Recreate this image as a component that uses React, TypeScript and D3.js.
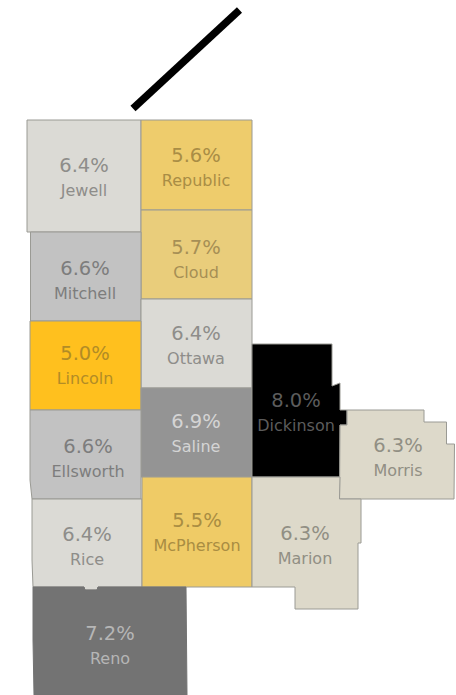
import React from 'react';
import * as d3 from 'd3';

const counties = ['Jewell', 'Republic', 'Cloud', 'Mitchell', 'Ottawa', 'Lincoln', 'Saline', 'Ellsworth', 'Dickinson', 'Morris', 'Rice', 'McPherson', 'Marion', 'Reno'];
const rates = [6.4, 5.6, 5.7, 6.6, 6.4, 5.0, 6.9, 6.6, 8.0, 6.3, 6.4, 5.5, 6.3, 7.2];

// colour ramp, keyed by rate
const rampStops = [5.0, 5.5, 5.6, 5.7, 6.3, 6.4, 6.6, 6.9, 7.2, 8.0];
const rampFill = ['#ffc01e', '#efcb66', '#eecc6c', '#e9cd7b', '#ddd9ca', '#dbdad5', '#c2c2c2', '#949494', '#737373', '#000000'];
const rampText = ['#b28c26', '#a98d42', '#a98d45', '#a68f55', '#918f84', '#8e8d8a', '#7d7d7d', '#d4d4d4', '#b6b6b6', '#5c5c5c'];

// county outlines in map units
const outlines: Record<string, [number, number][]> = {
  Jewell: [[27, 120], [141, 120], [141, 232], [27, 232]],
  Republic: [[141, 120], [252, 120], [252, 210], [141, 210]],
  Cloud: [[141, 210], [252, 210], [252, 299], [141, 299]],
  Mitchell: [[30.5, 232], [141, 232], [141, 321], [30.5, 321]],
  Ottawa: [[141, 299], [252, 299], [252, 388], [141, 388]],
  Lincoln: [[30, 321], [141, 321], [141, 410], [30, 410]],
  Saline: [[141, 388], [252, 388], [252, 477], [141, 477]],
  Ellsworth: [[30, 410], [141, 410], [141, 499], [32, 499], [30, 480]],
  Dickinson: [[252, 344], [332, 344], [332, 386], [340, 383], [340, 410], [347, 410], [347, 425], [340, 425], [340, 477], [252, 477]],
  Morris: [[340, 425], [347, 425], [347, 410], [424, 410], [424, 422], [446.5, 422], [446.5, 444], [454.5, 444], [454, 499], [339.5, 499]],
  Rice: [[32, 499], [142, 499], [142, 587], [98, 587], [97, 590], [85, 590], [84, 587], [33, 587], [32, 560]],
  McPherson: [[142, 477], [252, 477], [252, 587], [142, 587]],
  Marion: [[252, 477], [340, 477], [339.5, 499], [361, 499], [361, 543], [358, 543], [358, 609], [295, 609], [295, 587], [252, 587]],
  Reno: [[33, 587], [84, 587], [85, 590], [97, 590], [98, 587], [186, 587], [187, 695], [34, 695], [33, 640]],
};

// where each label pair is centred
const labelAnchors: Record<string, [number, number]> = {
  Jewell: [84, 165], Republic: [196, 155], Cloud: [196, 247], Mitchell: [85, 268], Ottawa: [196, 333],
  Lincoln: [85, 353], Saline: [196, 421], Ellsworth: [88, 446], Dickinson: [296, 400], Morris: [398, 445],
  Rice: [87, 534], McPherson: [197, 520], Marion: [305, 533], Reno: [110, 633],
};

// the black stroke above the map
const pointer: [number, number][] = [[133, 108.5], [239.5, 10]];

const fillScale = d3.scaleLinear<string>().domain(rampStops).range(rampFill);
const textScale = d3.scaleLinear<string>().domain(rampStops).range(rampText);
const path = d3.geoPath(d3.geoIdentity());
const line = d3.line();
const fmt = (v: number) => d3.format('.1f')(v) + '%';

export default function App() {
  return (
    <svg width={456} height={695} style={{ position: 'absolute', left: 0, top: 0 }} fontFamily="'DejaVu Sans'">
      <path d={line(pointer) ?? ''} stroke="#000" strokeWidth={7.5} fill="none" />
      {counties.map((name, i) => (
        <path
          key={name}
          d={path({ type: 'Polygon', coordinates: [[...outlines[name], outlines[name][0]]] } as any) ?? ''}
          fill={fillScale(rates[i])}
          stroke={name === 'Reno' ? '#737373' : '#9a9a94'}
          strokeWidth={1}
        />
      ))}
      {counties.map((name, i) => {
        const [x, y] = labelAnchors[name];
        const colour = textScale(rates[i]);
        return (
          <g key={name} textAnchor="middle" fill={colour}>
            <text x={x} y={y + 7} fontSize={19.5}>{fmt(rates[i])}</text>
            <text x={x} y={y + 30.5} fontSize={16}>{name}</text>
          </g>
        );
      })}
    </svg>
  );
}
